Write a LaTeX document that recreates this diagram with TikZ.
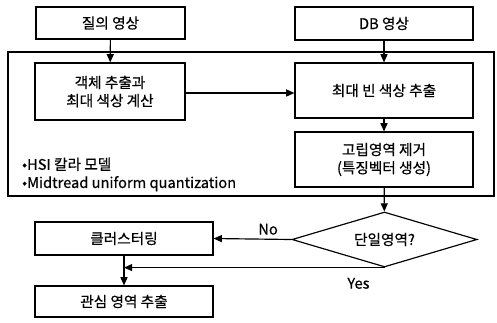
\documentclass[tikz,border=0pt]{standalone}
\usepackage{fontspec}
\setmainfont[FakeBold=0.6]{Noto Sans CJK KR}
\usetikzlibrary{arrows.meta,shapes.geometric,calc}

\begin{document}
\begin{tikzpicture}[x=0.03cm, y=-0.03cm, >={Triangle[length=7pt,width=6pt]},
    every node/.style={font=\fontsize{12.5}{15.5}\selectfont},
    procbox/.style={draw, line width=1pt, align=center, inner sep=0pt},
    flow/.style={line width=1pt, ->}]
    \useasboundingbox (0,0) rectangle (497,322);

    % outer frame
    \draw[line width=1pt] (8,52) rectangle (494,196);

    \node[procbox, minimum width=149*0.03cm, minimum height=32*0.03cm] (query) at (110.5,23) {질의 영상};
    \node[procbox, minimum width=178*0.03cm, minimum height=33*0.03cm] (dbimg) at (384,23.5) {DB 영상};
    \node[procbox, minimum width=150*0.03cm, minimum height=57*0.03cm] (object) at (110,91.5) {객체 추출과\\최대 색상 계산};
    \node[procbox, minimum width=178*0.03cm, minimum height=55*0.03cm] (maxbin) at (384,90.5) {최대 빈 색상 추출};
    \node[procbox, minimum width=178*0.03cm, minimum height=55*0.03cm] (isolate) at (384,159.5) {고립영역 제거\\(특징벡터 생성)};
    \node[draw, line width=1pt, diamond, aspect=3.4, minimum width=185*0.03cm, minimum height=55*0.03cm, inner sep=0pt] (single) at (384.5,239.5) {단일영역?};
    \node[procbox, minimum width=178*0.03cm, minimum height=33*0.03cm] (cluster) at (124,238.5) {클러스터링};
    \node[procbox, minimum width=178*0.03cm, minimum height=31*0.03cm] (roi) at (124,301.5) {관심 영역 추출};

    \node[anchor=west, align=left] (notes) at (18,174.5) {•HSI 칼라 모델\\•Midtread uniform quantization};

    \draw[flow] (query) -- (object);
    \draw[flow] (dbimg) -- (maxbin);
    \draw[flow] (object.east |- 0,93) -- (maxbin.west |- 0,93);
    \draw[flow] (maxbin) -- (isolate);
    \draw[flow] (isolate) -- (single);
    \draw[flow] (single.west) -- (cluster.east) node[pos=0.3, above] (no) {No};
    \coordinate (join) at (cluster.south |- single.south);
    \draw[flow] (single.south) -- (join) node[pos=0.1, below=5pt] (yes) {Yes};
    \draw[flow] (cluster) -- (roi);
\end{tikzpicture}
\end{document}
